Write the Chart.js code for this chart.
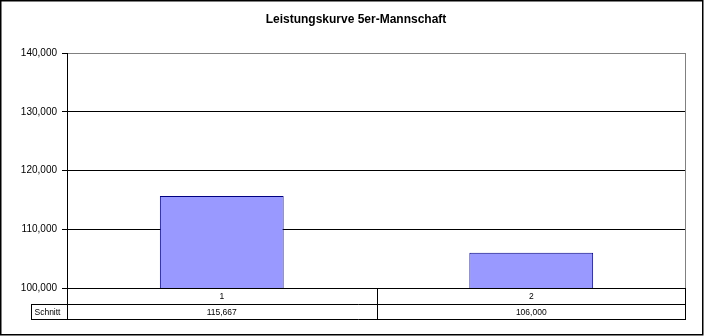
<!DOCTYPE html>
<html>
<head>
<meta charset="utf-8">
<script src="https://cdn.jsdelivr.net/npm/chart.js@4/dist/chart.umd.min.js"></script>
<style>
html,body{margin:0;padding:0;background:#fff;}
canvas{display:block;}
</style>
</head>
<body>
<canvas id="c" width="704" height="336"></canvas>
<script>
const titleText = 'Leistungskurve 5er-Mannschaft';
const categories = ['1', '2'];
const seriesName = 'Schnitt';
const schnitt = [115.667, 106.0];
const yTicks = [100, 110, 120, 130, 140];

const FONT = '"Liberation Sans", Arial, sans-serif';
const fmt = v => v.toFixed(3).replace('.', ',');

const tablePlugin = {
  id: 'tablePlugin',
  afterDraw(chart) {
    const ctx = chart.ctx;
    const area = chart.chartArea;
    const xs = chart.scales.x;
    const L = Math.round(area.left) + 0.5;
    const R = Math.round(area.right) - 0.5;
    const B = Math.round(area.bottom);
    const row1 = B + 16;
    const row2 = B + 31;
    const nameLeft = 31.5;
    ctx.save();
    // title
    ctx.fillStyle = '#000';
    ctx.font = 'bold 12px ' + FONT;
    ctx.textAlign = 'center';
    ctx.textBaseline = 'middle';
    ctx.fillText(titleText, 356, 20);
    // right plot border (grey)
    ctx.strokeStyle = '#808080';
    ctx.lineWidth = 1;
    ctx.beginPath();
    ctx.moveTo(R, Math.round(area.top));
    ctx.lineTo(R, B);
    ctx.stroke();
    // table lines
    ctx.strokeStyle = '#000';
    ctx.beginPath();
    ctx.moveTo(nameLeft, row1 + 0.5); ctx.lineTo(R + 0.5, row1 + 0.5);
    ctx.moveTo(nameLeft, row2 + 0.5); ctx.lineTo(R + 0.5, row2 + 0.5);
    ctx.moveTo(nameLeft, row1); ctx.lineTo(nameLeft, row2 + 1);
    ctx.moveTo(L, B); ctx.lineTo(L, row2 + 1);
    for (let i = 1; i < categories.length; i++) {
      const bx = Math.round((xs.getPixelForValue(i - 1) + xs.getPixelForValue(i)) / 2) + 0.5;
      ctx.moveTo(bx, B); ctx.lineTo(bx, row2 + 1);
    }
    ctx.moveTo(R, B); ctx.lineTo(R, row2 + 1);
    ctx.stroke();
    // table text
    ctx.fillStyle = '#000';
    ctx.textBaseline = 'middle';
    ctx.font = '8.5px ' + FONT;
    ctx.textAlign = 'center';
    categories.forEach((c, i) => {
      const cx = xs.getPixelForValue(i);
      ctx.fillText(c, cx, (B + row1) / 2 + 1);
      ctx.fillText(fmt(schnitt[i]), cx, (row1 + row2) / 2 + 1);
    });
    ctx.textAlign = 'left';
    ctx.fillText(seriesName, nameLeft + 3, (row1 + row2) / 2 + 1);
    // outer chart border
    ctx.lineWidth = 1.5;
    ctx.strokeRect(0.75, 0.75, chart.width - 2, chart.height - 2);
    ctx.restore();
  }
};

new Chart(document.getElementById('c'), {
  type: 'bar',
  data: {
    labels: categories,
    datasets: [{
      label: seriesName,
      data: schnitt,
      backgroundColor: '#9999FF',
      borderColor: '#000080',
      borderWidth: 1,
      barPercentage: 0.4,
      categoryPercentage: 1.0
    }]
  },
  options: {
    responsive: false,
    animation: false,
    devicePixelRatio: 1,
    layout: { padding: { left: 0, right: 18, top: 53, bottom: 0 } },
    plugins: {
      legend: { display: false },
      tooltip: { enabled: false },
      title: { display: false }
    },
    scales: {
      x: {
        display: true,
        offset: true,
        grid: { display: false },
        border: { display: false },
        ticks: { display: false },
        afterFit: s => { s.height = 48; }
      },
      y: {
        min: yTicks[0],
        max: yTicks[yTicks.length - 1],
        afterBuildTicks: s => { s.ticks = yTicks.map(v => ({ value: v })); },
        afterFit: s => { s.width = 67; },
        grid: {
          color: c => (c.tick && c.tick.value === yTicks[yTicks.length - 1]) ? '#808080' : '#000',
          tickColor: '#000',
          tickLength: 5,
          lineWidth: 1
        },
        border: { display: true, color: '#000', width: 1 },
        ticks: {
          padding: 5,
          color: '#000',
          font: { family: FONT, size: 10 },
          callback: v => fmt(v)
        }
      }
    }
  },
  plugins: [tablePlugin]
});
</script>
</body>
</html>
